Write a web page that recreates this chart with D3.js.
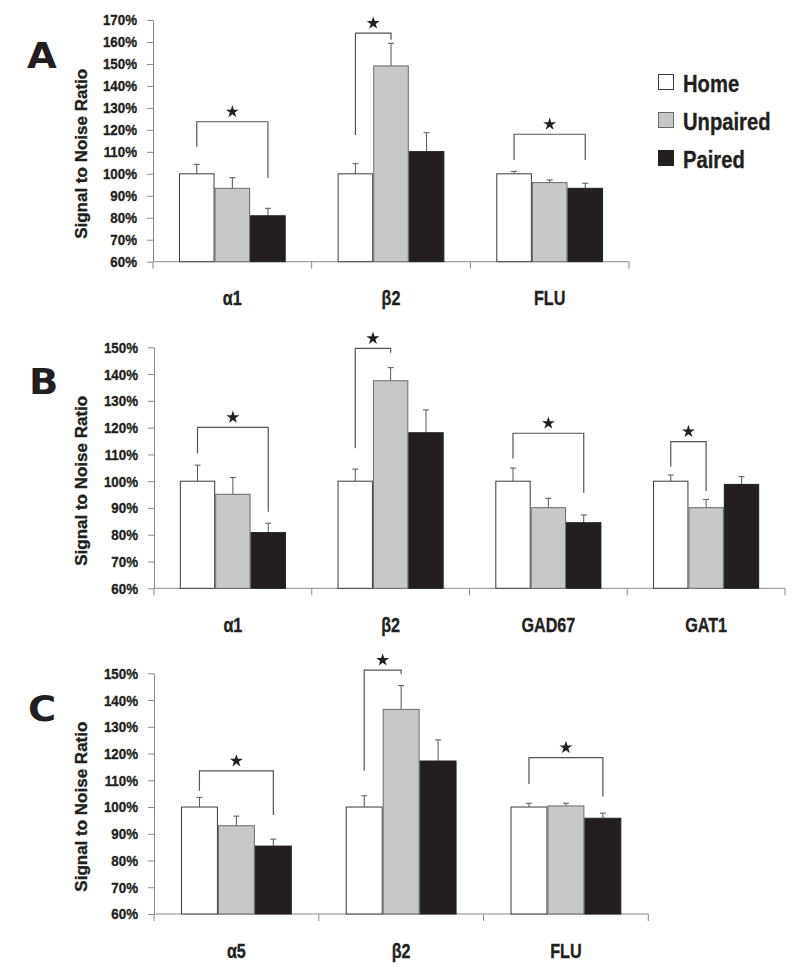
<!DOCTYPE html>
<html>
<head>
<meta charset="utf-8">
<script src="https://cdn.jsdelivr.net/npm/d3@7"></script>
<style>
    body { margin: 0; background: #fff; }
    svg { display: block; }
    .narrow { font-family: "Liberation Sans", Arial, Helvetica, sans-serif; font-weight: bold;
              stroke: #231f20; stroke-width: 0.35px; }
</style>
</head>
<body>
<div id="chart"></div>
<script>

let seriesNames = ["Home", "Unpaired", "Paired"];

// panel A
let genesA = ["α1", "β2", "FLU"];
let meanA = [[100, 93.4, 80.9], [100, 149.1, 110.1], [100, 96.0, 93.4]];
let semA  = [[4.3, 4.8, 3.4], [4.6, 10.3, 8.6], [1.1, 1.2, 2.3]];
let sigA  = [
    {gene: 0, a: 0, b: 2, top: 123.7, endA: 112.3, endB: 98.1},
    {gene: 1, a: 0, b: 1, top: 164.0, endA: 117.7, endB: 161.0},
    {gene: 2, a: 0, b: 2, top: 118.0, endA: 106.3, endB: 106.3}
];
let ticksA = [60, 70, 80, 90, 100, 110, 120, 130, 140, 150, 160, 170];

// panel B
let genesB = ["α1", "β2", "GAD67", "GAT1"];
let meanB = [[100, 95.1, 80.8], [100, 137.5, 118.1], [100, 90.1, 84.5], [100, 90.1, 98.8]];
let semB  = [[6.0, 6.3, 3.5], [4.5, 4.9, 8.5], [4.9, 3.5, 2.9], [2.3, 3.1, 2.9]];
let sigB  = [
    {gene: 0, a: 0, b: 2, top: 120.1, endA: 110.4, endB: 88.6},
    {gene: 1, a: 0, b: 1, top: 149.6, endA: 112.3, endB: 148.0},
    {gene: 2, a: 0, b: 2, top: 117.9, endA: 108.5, endB: 95.7},
    {gene: 3, a: 0, b: 1, top: 114.8, endA: 105.4, endB: 96.3}
];
let ticksB = [60, 70, 80, 90, 100, 110, 120, 130, 140, 150];

// panel C
let genesC = ["α5", "β2", "FLU"];
let meanC = [[100, 93.0, 85.4], [100, 136.5, 117.2], [100, 100.4, 95.8]];
let semC  = [[3.6, 3.6, 2.6], [4.2, 8.9, 7.9], [1.4, 1.0, 1.9]];
let sigC  = [
    {gene: 0, a: 0, b: 2, top: 113.5, endA: 106.1, endB: 97.0},
    {gene: 1, a: 0, b: 1, top: 151.2, endA: 113.6, endB: 149.6},
    {gene: 2, a: 0, b: 2, top: 118.5, endA: 108.6, endB: 103.9}
];
let ticksC = ticksB;

let fills   = ["#ffffff", "#c7c8ca", "#231f20"];
let strokes = ["#3a3a3a", "#6a6a6a", "#231f20"];
let axisColor = "#8a8a8a";
let markColor = "#555555";
let inkColor  = "#231f20";

let svg = d3.select("#chart").append("svg")
    .attr("width", 800)
    .attr("height", 971);

// no condensed face is installed, so squeeze the bold face horizontally
function squeeze(sel, sx) {
    sel.each(function () {
        let t = d3.select(this);
        let x = +t.attr("x") || 0;
        let y = +t.attr("y") || 0;
        t.attr("transform", `translate(${x},${y}) scale(${sx},1)`)
            .attr("x", 0)
            .attr("y", 0);
    });
}

function drawPanel(opts) {
    let g = svg.append("g");

    let x = d3.scaleBand()
        .domain(opts.genes)
        .range([opts.left, opts.right]);

    let xs = d3.scaleBand()
        .domain(d3.range(seriesNames.length))
        .range([0, x.bandwidth()])
        .paddingInner(0)
        .paddingOuter(0.73);

    let y = d3.scaleLinear()
        .domain([60, d3.max(opts.ticks)])
        .range([opts.bottom, opts.top]);

    // y axis
    let yAxis = g.append("g")
        .attr("transform", `translate(${opts.left},0)`)
        .call(d3.axisLeft(y)
            .tickValues(opts.ticks)
            .tickFormat(d => d + "%")
            .tickSize(6)
            .tickSizeOuter(0)
            .tickPadding(10));
    yAxis.selectAll("path, line").attr("stroke", axisColor);
    yAxis.selectAll("text")
        .attr("class", "narrow")
        .attr("fill", inkColor)
        .style("font-size", "15.5px")
        .call(squeeze, 0.86);

    // x axis, ticks on band boundaries
    let bounds = opts.genes.map(d => x(d)).concat([x.range()[1]]);
    g.append("line")
        .attr("x1", opts.left).attr("x2", opts.right)
        .attr("y1", opts.bottom).attr("y2", opts.bottom)
        .attr("stroke", axisColor);
    g.selectAll("line.xtick")
        .data(bounds)
        .enter().append("line").classed("xtick", true)
        .attr("x1", d => d).attr("x2", d => d)
        .attr("y1", opts.bottom).attr("y2", opts.bottom + 7)
        .attr("stroke", axisColor);

    g.selectAll("text.gene")
        .data(opts.genes)
        .enter().append("text").classed("gene narrow", true)
        .attr("x", d => x(d) + x.bandwidth() / 2)
        .attr("y", opts.bottom + 43.5)
        .attr("text-anchor", "middle")
        .attr("fill", inkColor)
        .style("font-size", "21px")
        .text(d => d)
        .call(squeeze, 0.77);

    // bars
    let cells = [];
    opts.means.forEach(function (row, gi) {
        row.forEach(function (v, si) {
            cells.push({gene: opts.genes[gi], s: si, v: v, e: opts.sems[gi][si]});
        });
    });

    // error bars (drawn first so the bar top covers the stem)
    let mid = d => x(d.gene) + xs(d.s) + xs.bandwidth() / 2;
    let eb = g.selectAll("g.err")
        .data(cells)
        .enter().append("g").classed("err", true);
    eb.append("line")
        .attr("x1", mid)
        .attr("x2", mid)
        .attr("y1", d => y(d.v))
        .attr("y2", d => y(d.v + d.e))
        .attr("stroke", markColor);
    eb.append("line")
        .attr("x1", d => mid(d) - 3)
        .attr("x2", d => mid(d) + 3)
        .attr("y1", d => y(d.v + d.e))
        .attr("y2", d => y(d.v + d.e))
        .attr("stroke", markColor);

    g.selectAll("rect.bar")
        .data(cells)
        .enter().append("rect").classed("bar", true)
        .attr("x", d => x(d.gene) + xs(d.s) + 0.5)
        .attr("y", d => y(d.v))
        .attr("width", xs.bandwidth() - 1)
        .attr("height", d => y(60) - y(d.v))
        .attr("fill", d => fills[d.s])
        .attr("stroke", d => strokes[d.s])
        .attr("stroke-width", 1);

    // significance brackets
    let cx = (gi, si) => x(opts.genes[gi]) + xs(si) + xs.bandwidth() / 2;
    let br = g.selectAll("g.sig")
        .data(opts.sig)
        .enter().append("g").classed("sig", true);
    br.append("path")
        .attr("d", d => d3.line()([
            [cx(d.gene, d.a), y(d.endA)],
            [cx(d.gene, d.a), y(d.top)],
            [cx(d.gene, d.b), y(d.top)],
            [cx(d.gene, d.b), y(d.endB)]
        ]))
        .attr("fill", "none")
        .attr("stroke", markColor)
        .attr("stroke-width", 1.2);
    br.append("path")
        .attr("transform", d => `translate(${(cx(d.gene, d.a) + cx(d.gene, d.b)) / 2},${y(d.top) - 10})`)
        .attr("d", d3.symbol().type(d3.symbolStar).size(52))
        .attr("fill", inkColor);

    // y title
    g.append("text")
        .attr("class", "narrow")
        .attr("transform", `translate(87,${(opts.top + opts.bottom) / 2 + 13}) rotate(-90)`)
        .attr("text-anchor", "middle")
        .attr("fill", inkColor)
        .style("font-size", "17px")
        .text("Signal to Noise Ratio");

    // panel letter
    g.append("text")
        .attr("x", opts.letterX)
        .attr("y", opts.letterY)
        .attr("fill", inkColor)
        .style("font-family", "'DejaVu Sans', sans-serif")
        .style("font-weight", "bold")
        .style("font-size", "35px")
        .text(opts.letter)
        .call(squeeze, 1.1);
}

drawPanel({letter: "A", letterX: 27, letterY: 68,
    genes: genesA, means: meanA, sems: semA, sig: sigA, ticks: ticksA,
    left: 153, right: 629, top: 20, bottom: 261.7});
drawPanel({letter: "B", letterX: 29, letterY: 394,
    genes: genesB, means: meanB, sems: semB, sig: sigB, ticks: ticksB,
    left: 154, right: 785, top: 347.3, bottom: 588.3});
drawPanel({letter: "C", letterX: 28, letterY: 721,
    genes: genesC, means: meanC, sems: semC, sig: sigC, ticks: ticksC,
    left: 154, right: 648.3, top: 673.3, bottom: 914});

// legend
let legend = svg.append("g")
    .attr("transform", "translate(658,74)");
let items = legend.selectAll("g.item")
    .data(seriesNames)
    .enter().append("g").classed("item", true)
    .attr("transform", (d, i) => `translate(0,${i * 38})`);
items.append("rect")
    .attr("x", 0.5).attr("y", 0.5)
    .attr("width", 15).attr("height", 15)
    .attr("fill", (d, i) => fills[i])
    .attr("stroke", (d, i) => strokes[i]);
items.append("text")
    .attr("class", "narrow")
    .attr("x", 25)
    .attr("y", 17.5)
    .attr("fill", inkColor)
    .style("font-size", "23.5px")
    .text(d => d)
    .call(squeeze, 0.86);

</script>
</body>
</html>
